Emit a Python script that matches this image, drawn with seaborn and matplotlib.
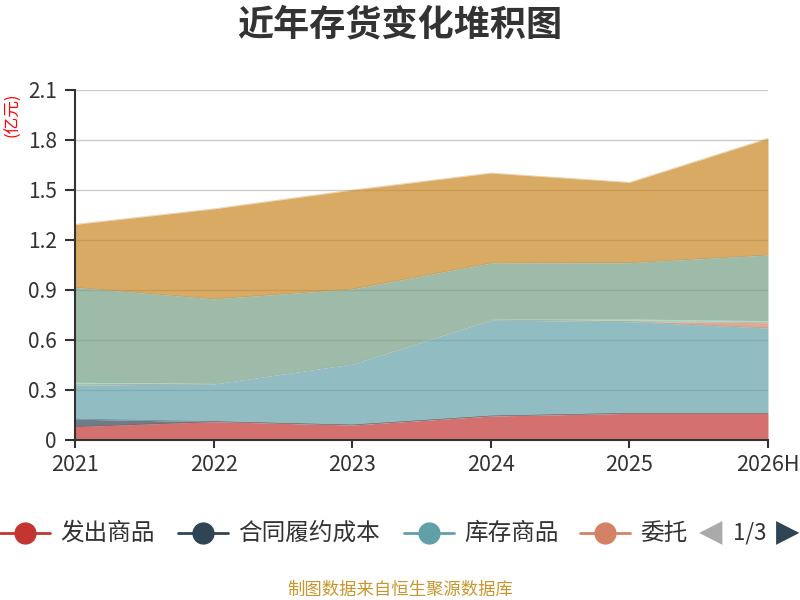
import numpy as np
import pandas as pd
import matplotlib
matplotlib.use('Agg')
import matplotlib.pyplot as plt
import seaborn as sns
from matplotlib.lines import Line2D

# --- data (亿元) ---
years = ['2021', '2022', '2023', '2024', '2025', '2026H']
series_names = ['发出商品', '合同履约成本', '库存商品', '委托加工物资', '周转材料', '原材料', '在产品']
colors = ['#c23531', '#2f4554', '#61a0a8', '#d48265', '#91c7ae', '#749f83', '#ca8622']

fachu = [0.08, 0.11, 0.09, 0.144, 0.16, 0.16]
hetong = [0.045, 0.0, 0.0, 0.0, 0.0, 0.0]
kucun = [0.205, 0.226, 0.366, 0.576, 0.55, 0.512]
weituo = [0.0, 0.0, 0.0, 0.0, 0.0, 0.032]
zhouzhuan = [0.016, 0.005, 0.003, 0.006, 0.016, 0.012]
yuancailiao = [0.57, 0.506, 0.447, 0.336, 0.338, 0.394]
zaichanpin = [0.378, 0.54, 0.594, 0.54, 0.482, 0.70]

y_ticks = [0, 0.3, 0.6, 0.9, 1.2, 1.5, 1.8, 2.1]
y_tick_labels = ['0', '0.3', '0.6', '0.9', '1.2', '1.5', '1.8', '2.1']


def main():
    sns.set_theme(style='white')
    plt.rcParams['font.family'] = ['Noto Sans CJK SC', 'DejaVu Sans']
    plt.rcParams['axes.unicode_minus'] = False

    df = pd.DataFrame({
        '发出商品': fachu, '合同履约成本': hetong, '库存商品': kucun,
        '委托加工物资': weituo, '周转材料': zhouzhuan, '原材料': yuancailiao,
        '在产品': zaichanpin,
    }, index=years)
    tops = df.cumsum(axis=1)
    x = np.arange(len(years))

    fig = plt.figure(figsize=(8, 6), dpi=100)
    ax = fig.add_axes([75 / 800, 160 / 600, 693 / 800, 350 / 600])

    # grid behind the areas
    for v in y_ticks[1:]:
        ax.axhline(v, color='#cccccc', lw=1, zorder=0)

    base = np.zeros(len(years))
    for name, col in zip(series_names, colors):
        top = tops[name].values
        ax.fill_between(x, base, top, color=col, alpha=0.7, lw=0, zorder=2)
        base = top

    # faint top edges via seaborn
    long_df = tops.reset_index().melt(id_vars='index', var_name='series', value_name='top')
    long_df['x'] = long_df['index'].map({y: i for i, y in enumerate(years)})
    sns.lineplot(data=long_df, x='x', y='top', hue='series', palette=dict(zip(series_names, colors)),
                 linewidth=0.4, alpha=0.5, legend=False, ax=ax, zorder=3)

    ax.set_xlim(0, len(years) - 1)
    ax.set_ylim(0, 2.1)
    ax.set_xticks(x)
    ax.set_xticklabels(years)
    ax.set_yticks(y_ticks)
    ax.set_yticklabels(y_tick_labels)
    ax.set_xlabel('')
    ax.set_ylabel('')

    for s in ['top', 'right']:
        ax.spines[s].set_visible(False)
    for s in ['left', 'bottom']:
        ax.spines[s].set_color('#333333')
        ax.spines[s].set_linewidth(1.5)
        ax.spines[s].set_zorder(5)
    ax.tick_params(axis='y', length=7, width=1.5, color='#333333', labelsize=15,
                   labelcolor='#333333', pad=6, left=True)
    ax.tick_params(axis='x', length=6, width=1.5, color='#333333', labelsize=15.5,
                   labelcolor='#333333', pad=4, bottom=True)

    # title, unit, footer
    fig.text(0.5, 1 - 25 / 600, '近年存货变化堆积图', ha='center', va='center',
             fontsize=26, fontweight='bold', color='#333333')
    fig.text(13 / 800, 1 - 115 / 600, '(亿元)', rotation=90, ha='center', va='center',
             fontsize=12, color='#ff0000')
    fig.text(0.5, 1 - 590 / 600, '制图数据来自恒生聚源数据库', ha='center', va='center',
             fontsize=12.5, color='#c8962d')

    # legend, page 1 of 3
    ly = 1 - 533 / 600
    centers = [25, 203, 429, 605]
    for i, cx in enumerate(centers):
        label = series_names[i] if i < 3 else series_names[i][:2]
        fig.add_artist(Line2D([(cx - 25) / 800, (cx + 25) / 800], [ly, ly],
                              transform=fig.transFigure, color=colors[i], lw=2))
        fig.add_artist(Line2D([cx / 800], [ly], transform=fig.transFigure, marker='o',
                              markersize=15, color=colors[i], lw=0))
        fig.text((cx + 35) / 800, ly, label, ha='left', va='center', fontsize=17, color='#333333')
    fig.text(711 / 800, ly, '◀', ha='center', va='center', fontsize=22, color='#aaaaaa',
             family=['DejaVu Sans'])
    fig.text(750 / 800, ly, '1/3', ha='center', va='center', fontsize=16, color='#333333')
    fig.text(788 / 800, ly, '▶', ha='center', va='center', fontsize=22, color='#2f4554',
             family=['DejaVu Sans'])

    fig.savefig('out.png', dpi=100)


if __name__ == '__main__':
    main()
